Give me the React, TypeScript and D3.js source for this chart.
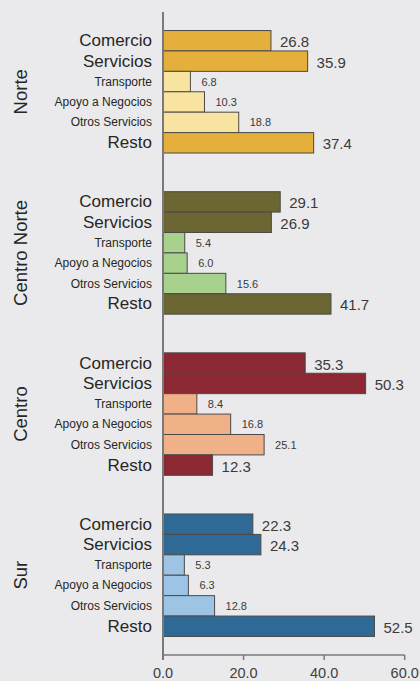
import React from "react";
import * as d3 from "d3";

const regions = ["Norte", "Centro Norte", "Centro", "Sur"];
const categories = ["Comercio", "Servicios", "Transporte", "Apoyo a Negocios", "Otros Servicios", "Resto"];
const majorCategories = ["Comercio", "Servicios", "Resto"];
const norteValues = [26.8, 35.9, 6.8, 10.3, 18.8, 37.4];
const centroNorteValues = [29.1, 26.9, 5.4, 6.0, 15.6, 41.7];
const centroValues = [35.3, 50.3, 8.4, 16.8, 25.1, 12.3];
const surValues = [22.3, 24.3, 5.3, 6.3, 12.8, 52.5];
const xTicks = [0, 20, 40, 60];

const darkColors = ["#E4AF3B", "#6B6632", "#8B2833", "#2F6A97"];
const lightColors = ["#F9E3A0", "#A9D18E", "#F0B088", "#9DC3E5"];

const W = 420;
const H = 681;

export default function App() {
  const valuesByRegion = [norteValues, centroNorteValues, centroValues, surValues];
  const x = d3.scaleLinear().domain([0, 60]).range([163, 404.7]);
  const yGroup = d3
    .scaleBand<string>()
    .domain(regions)
    .range([12, 655])
    .paddingInner(0.24)
    .paddingOuter(0.115);
  const yInner = d3.scaleBand<string>().domain(categories).range([0, yGroup.bandwidth()]).padding(0);
  const font = "'Liberation Sans', Arial, sans-serif";
  const axisY = 655;

  return (
    <svg
      width={W}
      height={H}
      style={{ position: "absolute", left: 0, top: 0, display: "block", background: "#EAEAEC" }}
    >
      <rect x={0} y={0} width={W} height={H} fill="#EAEAEC" />
      {regions.map((r, gi) => {
        const g0 = yGroup(r)!;
        const vals = valuesByRegion[gi];
        return (
          <g key={r}>
            <text
              transform={`translate(${20},${g0 + yGroup.bandwidth() / 2}) rotate(-90)`}
              textAnchor="middle"
              dominantBaseline="central"
              fontFamily={font}
              fontSize={18.5}
              fill="#262626"
            >
              {r}
            </text>
            {categories.map((c, ci) => {
              const major = majorCategories.includes(c);
              const yy = g0 + yInner(c)!;
              const bh = yInner.bandwidth();
              const v = vals[ci];
              return (
                <g key={c}>
                  <rect
                    x={x(0)}
                    y={yy}
                    width={x(v) - x(0)}
                    height={bh}
                    fill={major ? darkColors[gi] : lightColors[gi]}
                    stroke="#4a4a4a"
                    strokeWidth={1}
                  />
                  <text
                    x={152}
                    y={yy + bh / 2}
                    textAnchor="end"
                    dominantBaseline="central"
                    fontFamily={font}
                    fontSize={major ? 17 : 12}
                    fill="#262626"
                  >
                    {c}
                  </text>
                  <text
                    x={x(v) + (major ? 9 : 11)}
                    y={yy + bh / 2 + (major ? 1 : 0)}
                    dominantBaseline="central"
                    fontFamily={font}
                    fontSize={major ? 15 : 11}
                    fontWeight={major ? 400 : 500}
                    fill="#3a3a3a"
                  >
                    {v.toFixed(1)}
                  </text>
                </g>
              );
            })}
          </g>
        );
      })}
      <line x1={x(0)} x2={x(0)} y1={12} y2={axisY + 5} stroke="#7a7a7a" strokeWidth={2} />
      <line x1={x(0)} x2={x(60)} y1={axisY} y2={axisY} stroke="#7a7a7a" strokeWidth={1.5} />
      {xTicks.map((t) => (
        <g key={t}>
          <line x1={x(t)} x2={x(t)} y1={axisY} y2={axisY + 5} stroke="#7a7a7a" strokeWidth={1.5} />
          <text
            x={x(t)}
            y={678}
            textAnchor="middle"
            fontFamily={font}
            fontSize={14.5}
            fill="#404040"
          >
            {t.toFixed(1)}
          </text>
        </g>
      ))}
    </svg>
  );
}
